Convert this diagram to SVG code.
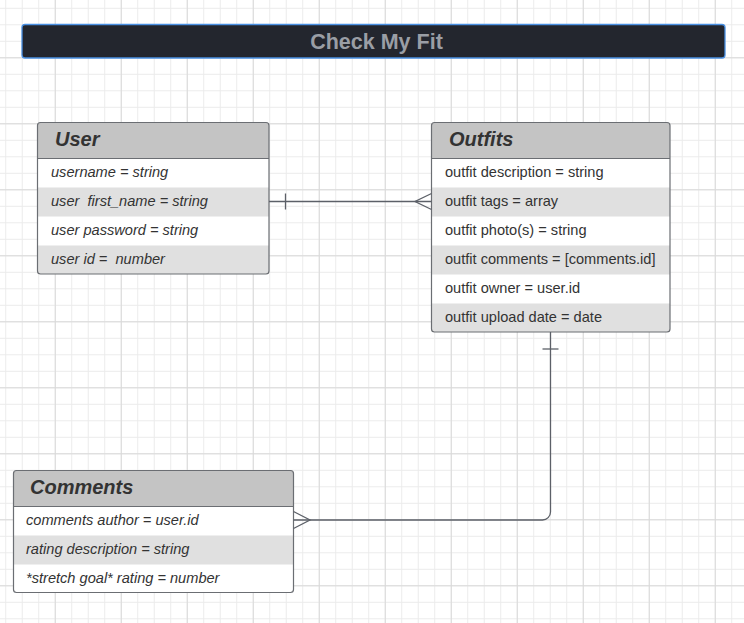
<svg xmlns="http://www.w3.org/2000/svg" width="744" height="623" viewBox="0 0 744 623">
<defs>
<pattern id="minor" x="5.25" y="7.8" width="16.5" height="16.5" patternUnits="userSpaceOnUse">
<path d="M0.5 0V16.5M0 0.5H16.5" stroke="#ebebeb" stroke-width="1" fill="none"/>
</pattern>
<pattern id="major" x="54.75" y="57.3" width="66" height="66" patternUnits="userSpaceOnUse">
<path d="M0.5 0V66M0 0.5H66" stroke="#d9d9d9" stroke-width="1" fill="none"/>
</pattern>
</defs>
<style>
.hdr{fill:#c4c4c4;}
.alt{fill:#e0e0e0;}
.row{fill:#ffffff;}
.box{fill:none;stroke:#6b6e73;stroke-width:1.2;}
.sep{stroke:#6b6e73;stroke-width:1.2;}
.ttl{font-family:"Liberation Sans",Arial,sans-serif;font-size:20px;font-weight:bold;font-style:italic;fill:#333333;}
.fld{font-family:"Liberation Sans",Arial,sans-serif;font-size:14.6px;fill:#333333;}
.it{font-style:italic;}
.con{fill:none;stroke:#5c6068;stroke-width:1.3;}
</style>
<rect width="744" height="623" fill="#ffffff"/>
<rect width="744" height="623" fill="url(#minor)"/>
<rect width="744" height="623" fill="url(#major)"/>

<g id="title">
<rect x="22" y="24.5" width="703" height="33.5" rx="3" fill="#23262e" stroke="#4a90e2" stroke-width="1.3"/>
<text x="376.5" y="48.5" text-anchor="middle" font-family="'Liberation Sans',Arial,sans-serif" font-size="21.5" font-weight="bold" fill="#9a9ea5">Check My Fit</text>
</g>

<g id="user">
<rect x="37.5" y="122.5" width="231.5" height="151.5" rx="3" class="row"/>
<path class="hdr" d="M40.5 122.5H266a3 3 0 0 1 3 3V158.5H37.5V125.5a3 3 0 0 1 3-3z"/>
<rect x="37.5" y="187.5" width="231.5" height="29" class="alt"/>
<path class="alt" d="M37.5 245.5H269V271a3 3 0 0 1-3 3H40.5a3 3 0 0 1-3-3z"/>
<rect x="37.5" y="122.5" width="231.5" height="151.5" rx="3" class="box"/>
<line x1="37.5" y1="158.5" x2="269" y2="158.5" class="sep"/>
<text x="55" y="146" class="ttl">User</text>
<text x="51" y="176.8" class="fld it">username = string</text>
<text x="51" y="205.8" class="fld it" xml:space="preserve">user  first_name = string</text>
<text x="51" y="234.8" class="fld it">user password = string</text>
<text x="51" y="263.8" class="fld it" xml:space="preserve">user id =  number</text>
</g>

<g id="outfits">
<rect x="431.5" y="122.5" width="238.5" height="209.5" rx="3" class="row"/>
<path class="hdr" d="M434.5 122.5H667a3 3 0 0 1 3 3V158.5H431.5V125.5a3 3 0 0 1 3-3z"/>
<rect x="431.5" y="187.5" width="238.5" height="29" class="alt"/>
<rect x="431.5" y="245.5" width="238.5" height="29" class="alt"/>
<path class="alt" d="M431.5 303.5H670V329a3 3 0 0 1-3 3H434.5a3 3 0 0 1-3-3z"/>
<rect x="431.5" y="122.5" width="238.5" height="209.5" rx="3" class="box"/>
<line x1="431.5" y1="158.5" x2="670" y2="158.5" class="sep"/>
<text x="449" y="146" class="ttl">Outfits</text>
<text x="445" y="176.8" class="fld">outfit description = string</text>
<text x="445" y="205.8" class="fld">outfit tags = array</text>
<text x="445" y="234.8" class="fld">outfit photo(s) = string</text>
<text x="445" y="263.8" class="fld">outfit comments = [comments.id]</text>
<text x="445" y="292.8" class="fld">outfit owner = user.id</text>
<text x="445" y="321.8" class="fld">outfit upload date = date</text>
</g>

<g id="comments">
<rect x="13.5" y="470.5" width="280" height="122" rx="3" class="row"/>
<path class="hdr" d="M16.5 470.5H290.5a3 3 0 0 1 3 3V506.5H13.5V473.5a3 3 0 0 1 3-3z"/>
<rect x="13.5" y="535.5" width="280" height="29" class="alt"/>
<rect x="13.5" y="470.5" width="280" height="122" rx="3" class="box"/>
<line x1="13.5" y1="506.5" x2="293.5" y2="506.5" class="sep"/>
<text x="30" y="494" class="ttl">Comments</text>
<text x="26" y="524.8" class="fld it">comments author = user.id</text>
<text x="26" y="553.8" class="fld it">rating description = string</text>
<text x="26" y="582.8" class="fld it">*stretch goal* rating = number</text>
</g>

<g id="connectors">
<path class="con" d="M269 201.5H431.5"/>
<path class="con" d="M285.5 193.5V209.5"/>
<path class="con" d="M431.5 193.5L415 201.5L431.5 209.5"/>
<path class="con" d="M550.5 332V512a8 8 0 0 1-8 8H293.5"/>
<path class="con" d="M542.5 349H558.5"/>
<path class="con" d="M293.5 511.5L310 520L293.5 528.5"/>
</g>
</svg>
